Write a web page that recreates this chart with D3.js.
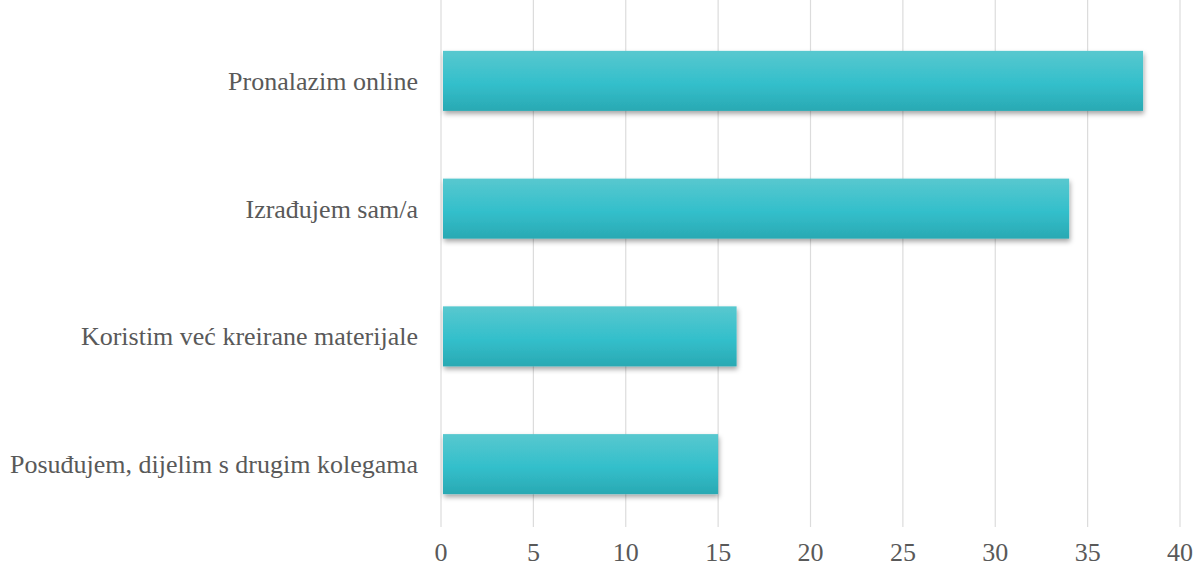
<!DOCTYPE html>
<html><head><meta charset="utf-8">
<script src="https://cdn.jsdelivr.net/npm/d3@7"></script>
<style>body{margin:0;background:#fff}svg{display:block}text{font-family:"Liberation Serif","Times New Roman","DejaVu Serif",serif}</style>
</head><body>
<script>
const categories = ["Pronalazim online","Izrađujem sam/a","Koristim već kreirane materijale","Posuđujem, dijelim s drugim kolegama"];
const values = [38, 34, 16, 15];
const xTicks = [0,5,10,15,20,25,30,35,40];

const W = 1199, H = 570;
const m = {left: 441, right: 19, top: 17, bottom: 42};
const svg = d3.select("body").append("svg").attr("width", W).attr("height", H);
const defs = svg.append("defs");
const g1 = defs.append("linearGradient").attr("id","bg").attr("x1",0).attr("y1",0).attr("x2",0).attr("y2",1);
g1.append("stop").attr("offset","0%").attr("stop-color","#58c8cf");
g1.append("stop").attr("offset","55%").attr("stop-color","#33bfcb");
g1.append("stop").attr("offset","100%").attr("stop-color","#2aa9b3");
const f = defs.append("filter").attr("id","sh").attr("x","-5%").attr("y","-20%").attr("width","110%").attr("height","160%");
f.append("feDropShadow").attr("dx",1).attr("dy",3).attr("stdDeviation",2.5).attr("flood-color","#000").attr("flood-opacity",0.35);

const x = d3.scaleLinear().domain([0,40]).range([m.left, W - m.right]);
const y = d3.scaleBand().domain(categories).range([m.top, H - m.bottom]).paddingInner(0.53).paddingOuter(0.265);

svg.append("g").selectAll("line").data(xTicks).join("line")
  .attr("x1", d=>x(d)).attr("x2", d=>x(d)).attr("y1", 0).attr("y2", 527)
  .attr("stroke", "#dcdcdc").attr("stroke-width", 1.2);

svg.append("g").selectAll("rect").data(values).join("rect")
  .attr("x", x(0)+2).attr("y", (d,i)=>y(categories[i]))
  .attr("width", d=>x(d)-x(0)-2).attr("height", y.bandwidth())
  .attr("fill","url(#bg)").attr("filter","url(#sh)");

svg.append("g").selectAll("text").data(categories).join("text")
  .attr("x", 418).attr("y", d=>y(d)+y.bandwidth()/2).attr("dy","0.35em")
  .attr("text-anchor","end")
  .attr("font-size", 26).attr("fill","#595959").text(d=>d);

svg.append("g").selectAll("text").data(xTicks).join("text")
  .attr("x", d=>x(d)).attr("y", 561).attr("text-anchor","middle")
  .attr("font-size", 26).attr("fill","#595959").text(d=>d);
</script>
</body></html>
